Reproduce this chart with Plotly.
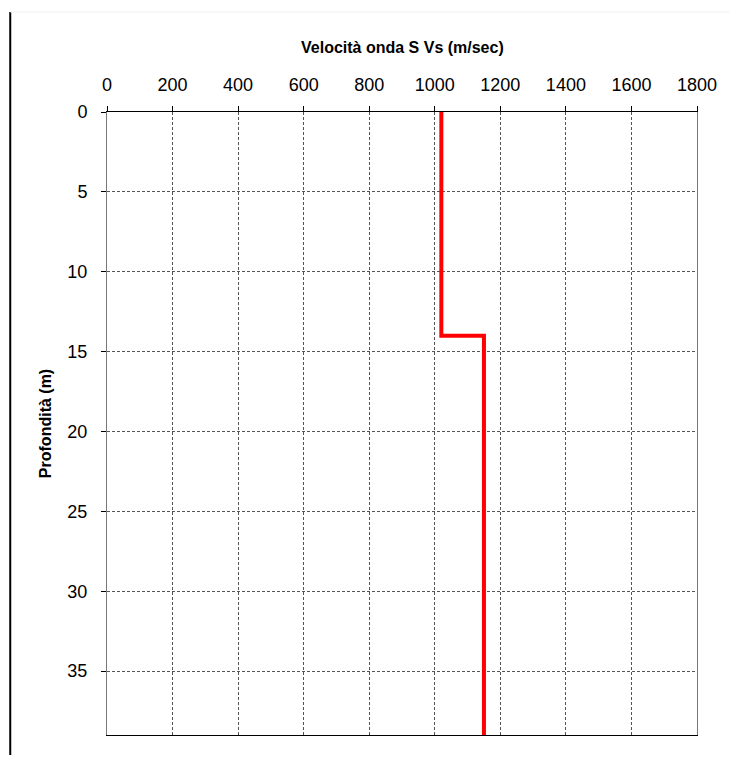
import plotly.graph_objects as go

# Data
depth_m = [0, 14, 14, 39]
vs_m_s = [1020, 1020, 1150, 1150]
x_ticks = [0, 200, 400, 600, 800, 1000, 1200, 1400, 1600, 1800]
y_ticks = [0, 5, 10, 15, 20, 25, 30, 35]

fig = go.Figure()
fig.add_trace(go.Scatter(
    x=vs_m_s, y=depth_m, mode="lines",
    line=dict(color="#ff0000", width=4), showlegend=False, hoverinfo="skip",
))

font_family = "Liberation Sans, Arial, sans-serif"

fig.update_layout(
    width=721, height=747,
    margin=dict(l=99, r=27, t=104, b=20),
    paper_bgcolor="white", plot_bgcolor="white",
    font=dict(family=font_family, color="black"),
    xaxis=dict(
        side="top", range=[0, 1800], tickvals=x_ticks,
        showgrid=True, gridcolor="#555555", gridwidth=1, griddash="3px,2px",
        showline=True, linecolor="black", linewidth=1, mirror=True,
        ticks="outside", ticklen=5, tickcolor="black",
        tickfont=dict(size=18, family=font_family),
        ticklabelstandoff=8,
        zeroline=False,
    ),
    yaxis=dict(
        range=[39, 0], tickvals=y_ticks,
        showgrid=True, gridcolor="#555555", gridwidth=1, griddash="3px,2px",
        showline=True, linecolor="#777777", linewidth=1, mirror=True,
        ticks="outside", ticklen=5, tickcolor="black",
        tickfont=dict(size=18, family=font_family),
        ticklabelstandoff=10,
        zeroline=False,
    ),
    annotations=[
        dict(text="<b>Velocità onda S Vs (m/sec)</b>", xref="paper", yref="paper",
             x=0.5, y=1.1043, xanchor="center", yanchor="middle", showarrow=False,
             font=dict(size=16, family=font_family)),
        dict(text="<b>Profondità (m)</b>", xref="paper", yref="paper",
             x=-0.104, y=0.5, xanchor="center", yanchor="middle", showarrow=False,
             textangle=-90, font=dict(size=16, family=font_family)),
    ],
    shapes=[
        dict(type="line", xref="paper", yref="paper", x0=-0.164, x1=-0.164, y0=1.1605, y1=-0.1,
             line=dict(color="black", width=2)),
        dict(type="line", xref="paper", yref="paper", x0=-0.164, x1=1.07, y0=1.1605, y1=1.1605,
             line=dict(color="#eeeeee", width=1)),
    ],
)

fig.write_html("out.html")
